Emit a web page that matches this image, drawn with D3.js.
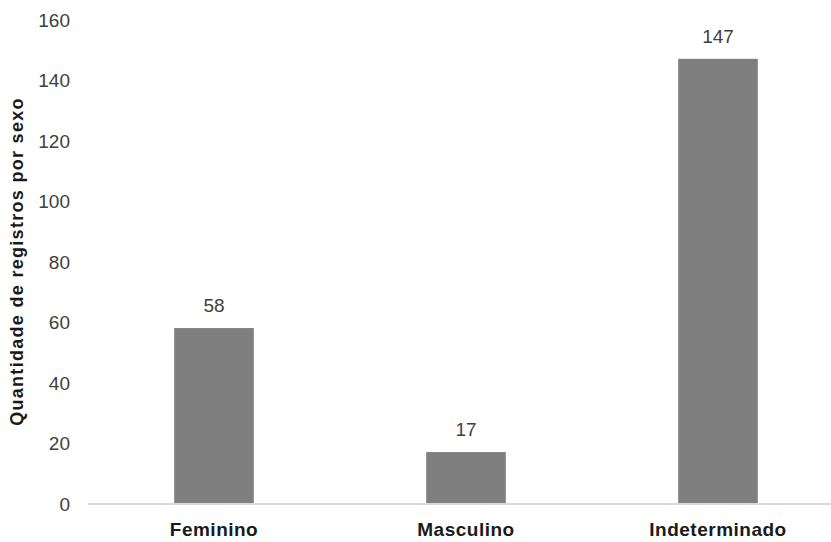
<!DOCTYPE html>
<html>
<head>
<meta charset="utf-8">
<script src="https://cdn.jsdelivr.net/npm/d3@7"></script>
<style>
  html, body { margin: 0; padding: 0; background: #fff; }
  svg { display: block; font-family: "Liberation Sans", Arial, sans-serif; }
</style>
</head>
<body>
<svg id="chart" width="831" height="542"></svg>
<script>
// Registros por sexo
const categories = ["Feminino", "Masculino", "Indeterminado"];
const values = [58, 17, 147];
const yTicks = [0, 20, 40, 60, 80, 100, 120, 140, 160];
const yTitle = "Quantidade de registros por sexo";

const svg = d3.select("#chart");
const plot = { left: 88, right: 844, top: 19.5, bottom: 503.5 };

const x = d3.scaleBand()
  .domain(categories)
  .range([plot.left, plot.right])
  .paddingInner(0.684)
  .paddingOuter(0.342);

const y = d3.scaleLinear()
  .domain([0, 160])
  .range([plot.bottom, plot.top]);

// Y axis: labels only
const yAxis = d3.axisLeft(y).tickValues(yTicks).tickSize(0).tickPadding(0);
const gy = svg.append("g")
  .attr("transform", `translate(70,0)`)
  .call(yAxis);
gy.select(".domain").remove();
gy.selectAll("text")
  .attr("font-family", "Liberation Sans, Arial, sans-serif")
  .attr("font-size", 19)
  .attr("fill", "#404040")
  .attr("dy", "0.36em");

// Bars
svg.append("g").selectAll("rect")
  .data(values)
  .join("rect")
  .attr("x", (d, i) => x(categories[i]))
  .attr("width", x.bandwidth())
  .attr("y", d => y(d))
  .attr("height", d => y(0) - y(d))
  .attr("fill", "#7f7f7f");

// Baseline
svg.append("line")
  .attr("x1", plot.left).attr("x2", plot.right)
  .attr("y1", y(0) + 0.5).attr("y2", y(0) + 0.5)
  .attr("stroke", "#d9d9d9").attr("stroke-width", 2);

// X axis labels
const xAxis = d3.axisBottom(x).tickSize(0).tickPadding(0);
const gx = svg.append("g")
  .attr("transform", `translate(0,${y(0)})`)
  .call(xAxis);
gx.select(".domain").remove();
gx.selectAll("text")
  .attr("font-family", "Liberation Sans, Arial, sans-serif")
  .attr("font-size", 19)
  .attr("font-weight", "bold")
  .attr("letter-spacing", "0.5px")
  .attr("fill", "#1a1a1a")
  .attr("dy", "1.72em");

// Value labels
svg.append("g").selectAll("text")
  .data(values)
  .join("text")
  .attr("x", (d, i) => x(categories[i]) + x.bandwidth() / 2)
  .attr("y", d => y(d) - 16)
  .attr("text-anchor", "middle")
  .attr("font-size", 19)
  .attr("fill", "#404040")
  .text(d => d);

// Y axis title
svg.append("text")
  .attr("transform", `translate(23,${(plot.top + plot.bottom) / 2}) rotate(-90)`)
  .attr("text-anchor", "middle")
  .attr("font-size", 18)
  .attr("font-weight", "bold")
  .attr("letter-spacing", "1.3px")
  .attr("fill", "#1a1a1a")
  .text(yTitle);
</script>
</body>
</html>
